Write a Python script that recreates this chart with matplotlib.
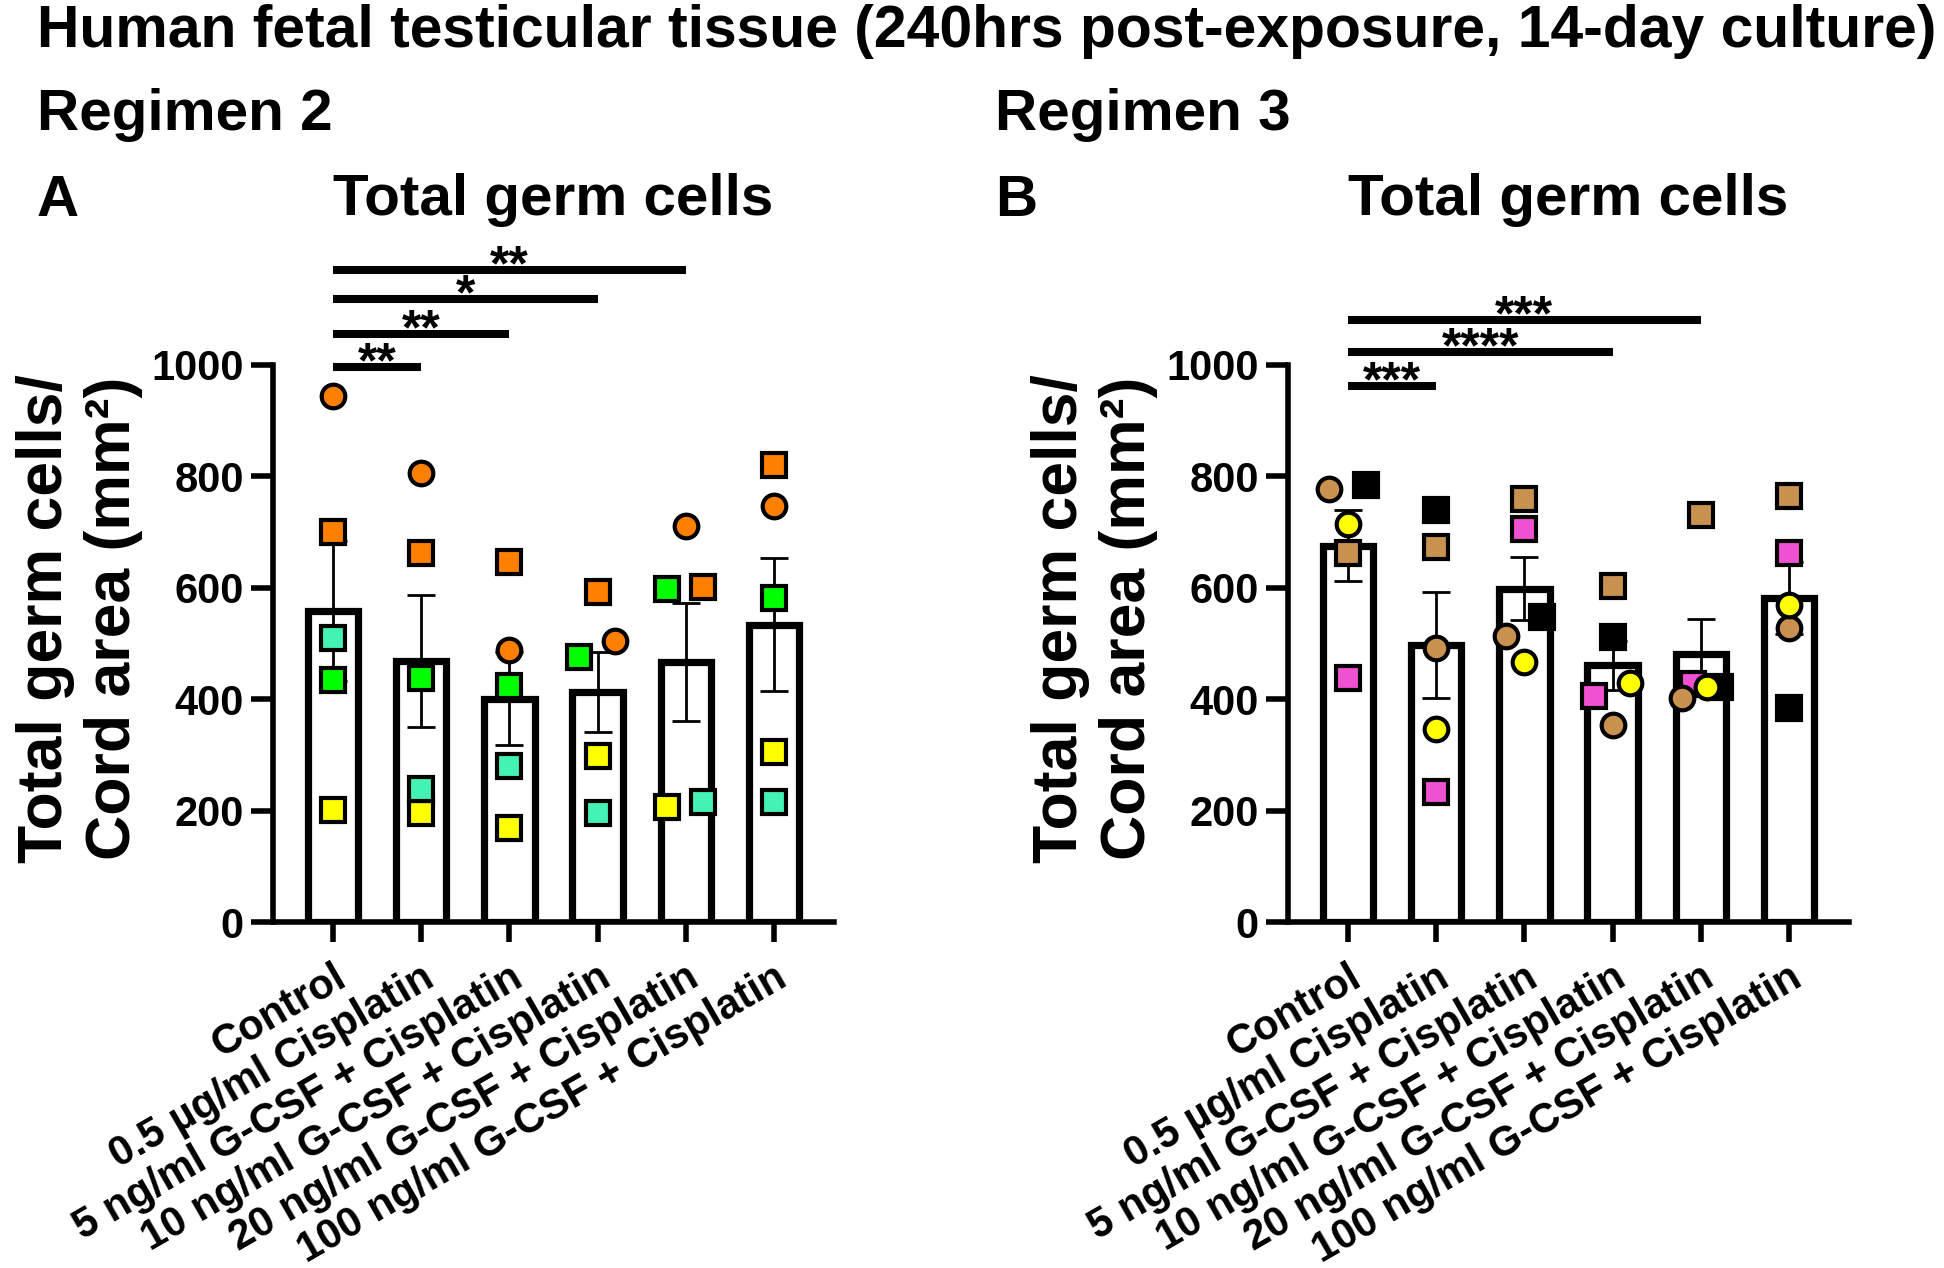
import numpy as np
import matplotlib
matplotlib.use("Agg")
import matplotlib.pyplot as plt
from matplotlib import transforms

plt.rcParams['font.family'] = ['Liberation Sans', 'DejaVu Sans']
plt.rcParams['font.weight'] = 'bold'

# ---------------- data ----------------
groups = ["Control", "0.5 \u00b5g/ml Cisplatin", "5 ng/ml G-CSF + Cisplatin",
          "10 ng/ml G-CSF + Cisplatin", "20 ng/ml G-CSF + Cisplatin",
          "100 ng/ml G-CSF + Cisplatin"]
yticks = [0, 200, 400, 600, 800, 1000]

# Regimen 2 (panel A) – one list per donor
a_orange_circle = [944, 806, 488, 504, 711, 746]
a_orange_square = [701, 662, 646, 593, 601, 820]
a_green_square = [434, 438, 424, 475, 597, 582]
a_teal_square = [510, 239, 280, 196, 216, 216]
a_yellow_square = [201, 195, 168, 298, 206, 305]
a_sig_groups = [1, 2, 3, 4]
a_sig_labels = ["**", "**", "*", "**"]
a_sig_levels = [997, 1055, 1119, 1171]

# Regimen 3 (panel B)
b_brown_circle = [777, 492, 514, 353, 403, 528]
b_black_square = [785, 740, 547, 512, 422, 384]
b_yellow_circle = [715, 346, 466, 429, 422, 569]
b_brown_square = [663, 674, 760, 603, 730, 765]
b_pink_square = [438, 233, 706, 406, 427, 663]
b_sig_groups = [1, 3, 4]
b_sig_labels = ["***", "****", "***"]
b_sig_levels = [963, 1024, 1081]

# ---------------- styles ----------------
ORANGE = "#ff7f00"
GREEN = "#00ff00"
TEAL = "#44f2b4"
YELLOW = "#ffff00"
BROWN = "#c8914f"
PINK = "#f050d2"
BLACK = "#000000"

# horizontal jitter of individual points (fraction of group spacing)
a_series = [
    (a_yellow_square, 's', YELLOW, [0, 0, 0, 0, -0.21, 0]),
    (a_teal_square, 's', TEAL, [0, 0, 0, 0, 0.2, 0]),
    (a_green_square, 's', GREEN, [0, 0, 0, -0.21, -0.21, 0]),
    (a_orange_square, 's', ORANGE, [0, 0, 0, 0, 0.2, 0]),
    (a_orange_circle, 'o', ORANGE, [0, 0, 0, 0.2, 0, 0]),
]
b_series = [
    (b_pink_square, 's', PINK, [0, 0, 0, -0.21, -0.09, 0]),
    (b_black_square, 's', BLACK, [0.2, 0, 0.2, 0, 0.22, 0]),
    (b_brown_square, 's', BROWN, [0, 0, 0, 0, 0, 0]),
    (b_brown_circle, 'o', BROWN, [-0.21, 0, -0.21, 0, -0.21, 0]),
    (b_yellow_circle, 'o', YELLOW, [0, 0, 0, 0.2, 0.07, 0]),
]

W, H = 1944, 1268
fig = plt.figure(figsize=(W / 100, H / 100), dpi=100)

TICK_FS = 30
BIG_FS = 42


def draw_panel(ax, series, sig_groups, sig_labels, sig_levels):
    x = np.arange(len(groups))
    vals = np.array([s[0] for s in series], dtype=float)
    means = vals.mean(axis=0)
    sems = vals.std(axis=0, ddof=1) / np.sqrt(vals.shape[0])

    ax.bar(x, means, width=0.57, color='white', edgecolor='black',
           linewidth=5.2, zorder=2)
    ax.errorbar(x, means, yerr=sems, fmt='none', ecolor='black',
                elinewidth=2.0, capsize=10, capthick=2.0, zorder=3)
    for v, m, c, off in series:
        ax.plot(x + np.array(off), v, ls='none', marker=m, ms=17,
                mfc=c, mec='black', mew=3, zorder=4, clip_on=False)

    for g, lab, lev in zip(sig_groups, sig_labels, sig_levels):
        ax.plot([0, g], [lev, lev], color='black', lw=5.8,
                solid_capstyle='butt', clip_on=False, zorder=5)
        ax.annotate(lab, xy=((0 + g) / 2, lev), xytext=(0, -7.5),
                    textcoords='offset points', ha='center', va='baseline',
                    fontsize=36, fontweight='bold', annotation_clip=False)

    ax.set_xlim(-0.68, len(groups) - 1 + 0.68)
    ax.set_ylim(0, 1000)
    ax.set_yticks(yticks)
    ax.set_yticklabels([str(t) for t in yticks], fontsize=TICK_FS,
                       fontweight='bold')
    ax.set_xticks(x)
    ax.set_xticklabels(groups, rotation=30, ha='right', va='top',
                       rotation_mode='anchor', fontsize=TICK_FS,
                       fontweight='bold')
    shift = transforms.ScaledTranslation(-7 / 72, 0, fig.dpi_scale_trans)
    for lab in ax.get_xticklabels():
        lab.set_transform(lab.get_transform() + shift)
    for s in ['top', 'right']:
        ax.spines[s].set_visible(False)
    for s in ['left', 'bottom']:
        ax.spines[s].set_linewidth(4)
        ax.spines[s].set_capstyle('projecting')
    ax.tick_params(axis='y', width=4, length=16, pad=5)
    ax.tick_params(axis='x', width=4, length=14.5, pad=11)
    ax.set_ylabel("Total germ cells/\nCord area (mm\u00b2)", fontsize=45,
                  fontweight='bold', linespacing=1.2)
    ax.yaxis.set_label_coords(-0.232, 0.545)


ax_h = 557 / H
ax_w = 561 / W
bottom = (H - 922) / H
axA = fig.add_axes([273 / W, bottom, ax_w, ax_h])
axB = fig.add_axes([1288 / W, bottom, ax_w, ax_h])
draw_panel(axA, a_series, a_sig_groups, a_sig_labels, a_sig_levels)
draw_panel(axB, b_series, b_sig_groups, b_sig_labels, b_sig_levels)

# ---------------- texts ----------------
def fy(py):
    return 1 - py / H

fig.text(37 / W, fy(47), "Human fetal testicular tissue (240hrs post-exposure, 14-day culture)",
         fontsize=42.4, fontweight='bold', ha='left', va='baseline')
fig.text(37 / W, fy(130), "Regimen 2", fontsize=BIG_FS, fontweight='bold',
         ha='left', va='baseline')
fig.text(995 / W, fy(130), "Regimen 3", fontsize=BIG_FS, fontweight='bold',
         ha='left', va='baseline')
fig.text(37 / W, fy(216), "A", fontsize=BIG_FS, fontweight='bold',
         ha='left', va='baseline')
fig.text(995 / W, fy(216), "B", fontsize=BIG_FS, fontweight='bold',
         ha='left', va='baseline')
for ax in (axA, axB):
    pos = ax.get_position()
    fig.text(pos.x0 + pos.width / 2, fy(215), "Total germ cells",
             fontsize=BIG_FS, fontweight='bold', ha='center', va='baseline')

fig.savefig("out.png", dpi=100, facecolor='white')
